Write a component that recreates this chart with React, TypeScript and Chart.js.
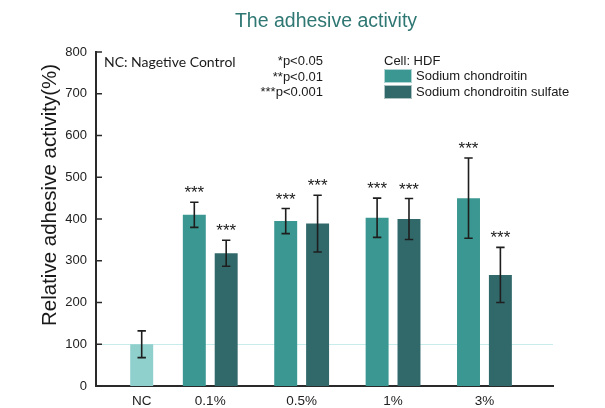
import React, { useEffect, useRef } from 'react';
import { Chart, registerables } from 'chart.js';

Chart.register(...registerables);

// ---------- data ----------
const categories = ['NC', '0.1%', '0.5%', '1%', '3%'];
const ncMeans = [100, null, null, null, null];
const ncErrors = [32, null, null, null, null];
const scMeans = [null, 410, 395, 403, 450];
const scErrors = [null, 30, 30, 47, 96];
const scsMeans = [null, 318, 389, 400, 266];
const scsErrors = [null, 31, 68, 49, 66];
const ncSignificance = ['', '', '', '', ''];
const scSignificance = ['', '***', '***', '***', '***'];
const scsSignificance = ['', '***', '***', '***', '***'];
const yTickValues = [0, 100, 200, 300, 400, 500, 600, 700, 800];
const referenceLevel = 100;
const seriesNames = ['Negative control', 'Sodium chondroitin', 'Sodium chondroitin sulfate'];
const chartTitle = 'The adhesive activity';
const yAxisTitle = 'Relative adhesive activity(%)';
const noteText = 'NC: Nagetive Control';
const pValueNotes = ['*p<0.05', '**p<0.01', '***p<0.001'];
const legendTitle = 'Cell: HDF';

// ---------- styles ----------
const COLORS = ['#8fcfcc', '#3a9791', '#31686a'];
const AXIS = '#2a2a2a';
const TEXT = '#1a1a1a';
const FONT = '"Liberation Sans", Arial, sans-serif';

// NC sits on its own slot, the concentration groups follow on a regular pitch
const slotOf = (i: number) => (i === 0 ? 0 : i - 0.25);

const toPoints = (vals: (number | null)[]) =>
  vals.map((v, i) => ({ x: slotOf(i), y: v }));

const errorsByDataset = [ncErrors, scErrors, scsErrors];
const sigByDataset = [ncSignificance, scSignificance, scsSignificance];

const decorPlugin = {
  id: 'decor',
  beforeDatasetsDraw(chart: any) {
    const { ctx, chartArea, scales } = chart;
    const y = scales.y.getPixelForValue(referenceLevel);
    ctx.save();
    ctx.strokeStyle = '#c6ecec';
    ctx.lineWidth = 1;
    ctx.beginPath();
    ctx.moveTo(chartArea.left, Math.round(y) + 0.5);
    ctx.lineTo(chartArea.right, Math.round(y) + 0.5);
    ctx.stroke();
    ctx.restore();
  },
  afterDatasetsDraw(chart: any) {
    const { ctx, scales } = chart;
    const yScale = scales.y;
    ctx.save();
    chart.data.datasets.forEach((ds: any, d: number) => {
      const meta = chart.getDatasetMeta(d);
      const errs = errorsByDataset[d];
      const sigs = sigByDataset[d];
      meta.data.forEach((el: any, i: number) => {
        const v = ds.data[i].y;
        const e = errs[i];
        if (v === null || e === null) return;
        const x = el.x;
        const yTop = yScale.getPixelForValue(v + e);
        const yBot = yScale.getPixelForValue(v - e);
        ctx.strokeStyle = '#1e1e1e';
        ctx.lineWidth = 1.6;
        ctx.beginPath();
        ctx.moveTo(x, yTop);
        ctx.lineTo(x, yBot);
        ctx.moveTo(x - 4.2, yTop);
        ctx.lineTo(x + 4.2, yTop);
        ctx.moveTo(x - 4.2, yBot);
        ctx.lineTo(x + 4.2, yBot);
        ctx.stroke();
        if (sigs[i]) {
          ctx.fillStyle = TEXT;
          ctx.font = `17px ${FONT}`;
          ctx.textAlign = 'center';
          ctx.textBaseline = 'alphabetic';
          ctx.fillText(sigs[i], x, yTop - 4);
        }
      });
    });
    ctx.restore();
  },
  afterDraw(chart: any) {
    const { ctx, chartArea, scales } = chart;
    ctx.save();
    // inward y tick marks
    ctx.strokeStyle = AXIS;
    ctx.lineWidth = 1.5;
    yTickValues.forEach((v) => {
      const y = scales.y.getPixelForValue(v);
      ctx.beginPath();
      ctx.moveTo(chartArea.left, y);
      ctx.lineTo(chartArea.left + 6, y);
      ctx.stroke();
    });
    // title
    ctx.fillStyle = '#2e7773';
    ctx.font = `19.5px ${FONT}`;
    ctx.textAlign = 'center';
    ctx.textBaseline = 'alphabetic';
    ctx.fillText(chartTitle, 326, 27);
    // y axis title
    ctx.save();
    ctx.translate(50, 195);
    ctx.rotate(-Math.PI / 2);
    ctx.fillStyle = TEXT;
    ctx.font = `20.5px ${FONT}`;
    ctx.textAlign = 'center';
    ctx.textBaseline = 'middle';
    ctx.fillText(yAxisTitle, 0, 0);
    ctx.restore();
    // NC note
    ctx.fillStyle = TEXT;
    ctx.font = '14px Lato, sans-serif';
    ctx.textAlign = 'left';
    ctx.fillText(noteText, 104, 66.5);
    // p-value notes
    ctx.font = `13px ${FONT}`;
    ctx.textAlign = 'right';
    const pBaselines = [65, 80.5, 96];
    pValueNotes.forEach((t, i) => ctx.fillText(t, 323, pBaselines[i]));
    // legend
    ctx.textAlign = 'left';
    ctx.fillText(legendTitle, 384, 65);
    const boxTops = [69, 85];
    const textBaselines = [80, 96];
    [1, 2].forEach((d, k) => {
      ctx.fillStyle = COLORS[d];
      ctx.fillRect(384, boxTops[k], 28, 14);
      ctx.strokeStyle = 'rgba(255,255,255,0.6)';
      ctx.lineWidth = 1;
      ctx.strokeRect(384.5, boxTops[k] + 0.5, 27, 13);
      ctx.fillStyle = TEXT;
      ctx.fillText(seriesNames[d], 416, textBaselines[k]);
    });
    ctx.restore();
  },
};

export default function App() {
  const canvasRef = useRef<HTMLCanvasElement | null>(null);

  useEffect(() => {
    document.body.style.margin = '0';
    const canvas = canvasRef.current;
    if (!canvas) return;
    const chart = new Chart(canvas, {
      type: 'bar',
      data: {
        datasets: [
          { label: seriesNames[0], data: toPoints(ncMeans) as any, backgroundColor: COLORS[0] },
          { label: seriesNames[1], data: toPoints(scMeans) as any, backgroundColor: COLORS[1] },
          { label: seriesNames[2], data: toPoints(scsMeans) as any, backgroundColor: COLORS[2] },
        ],
      },
      options: {
        responsive: false,
        animation: false,
        events: [],
        layout: { padding: { top: 52, right: 52, left: 0, bottom: 0 } },
        datasets: {
          bar: {
            skipNull: true,
            categoryPercentage: 0.93,
            barPercentage: 0.72,
            maxBarThickness: 23,
          },
        } as any,
        plugins: {
          legend: { display: false },
          title: { display: false },
          tooltip: { enabled: false },
        },
        scales: {
          x: {
            type: 'linear',
            min: -0.5,
            max: 4.5,
            offset: false,
            grid: { display: false, drawTicks: false, offset: false },
            border: { display: true, color: AXIS, width: 2 },
            afterBuildTicks: (scale: any) => {
              scale.ticks = categories.map((_, i) => ({ value: slotOf(i) }));
            },
            afterFit: (scale: any) => {
              scale.height = 22;
            },
            ticks: {
              autoSkip: false,
              maxRotation: 0,
              padding: 7,
              color: '#222',
              font: { family: FONT, size: 13.5 },
              callback: (_v: any, index: number) => categories[index],
            },
          },
          y: {
            min: 0,
            max: 800,
            grid: { display: false, drawTicks: false },
            border: { display: true, color: AXIS, width: 2 },
            afterFit: (scale: any) => {
              scale.width = 96;
            },
            ticks: {
              stepSize: 100,
              padding: 9,
              color: '#222',
              font: { family: FONT, size: 13 },
            },
          },
        },
      },
      plugins: [decorPlugin],
    });
    return () => chart.destroy();
  }, []);

  return (
    <div style={{ width: 605, height: 408 }}>
      <canvas ref={canvasRef} width={605} height={408} />
    </div>
  );
}
